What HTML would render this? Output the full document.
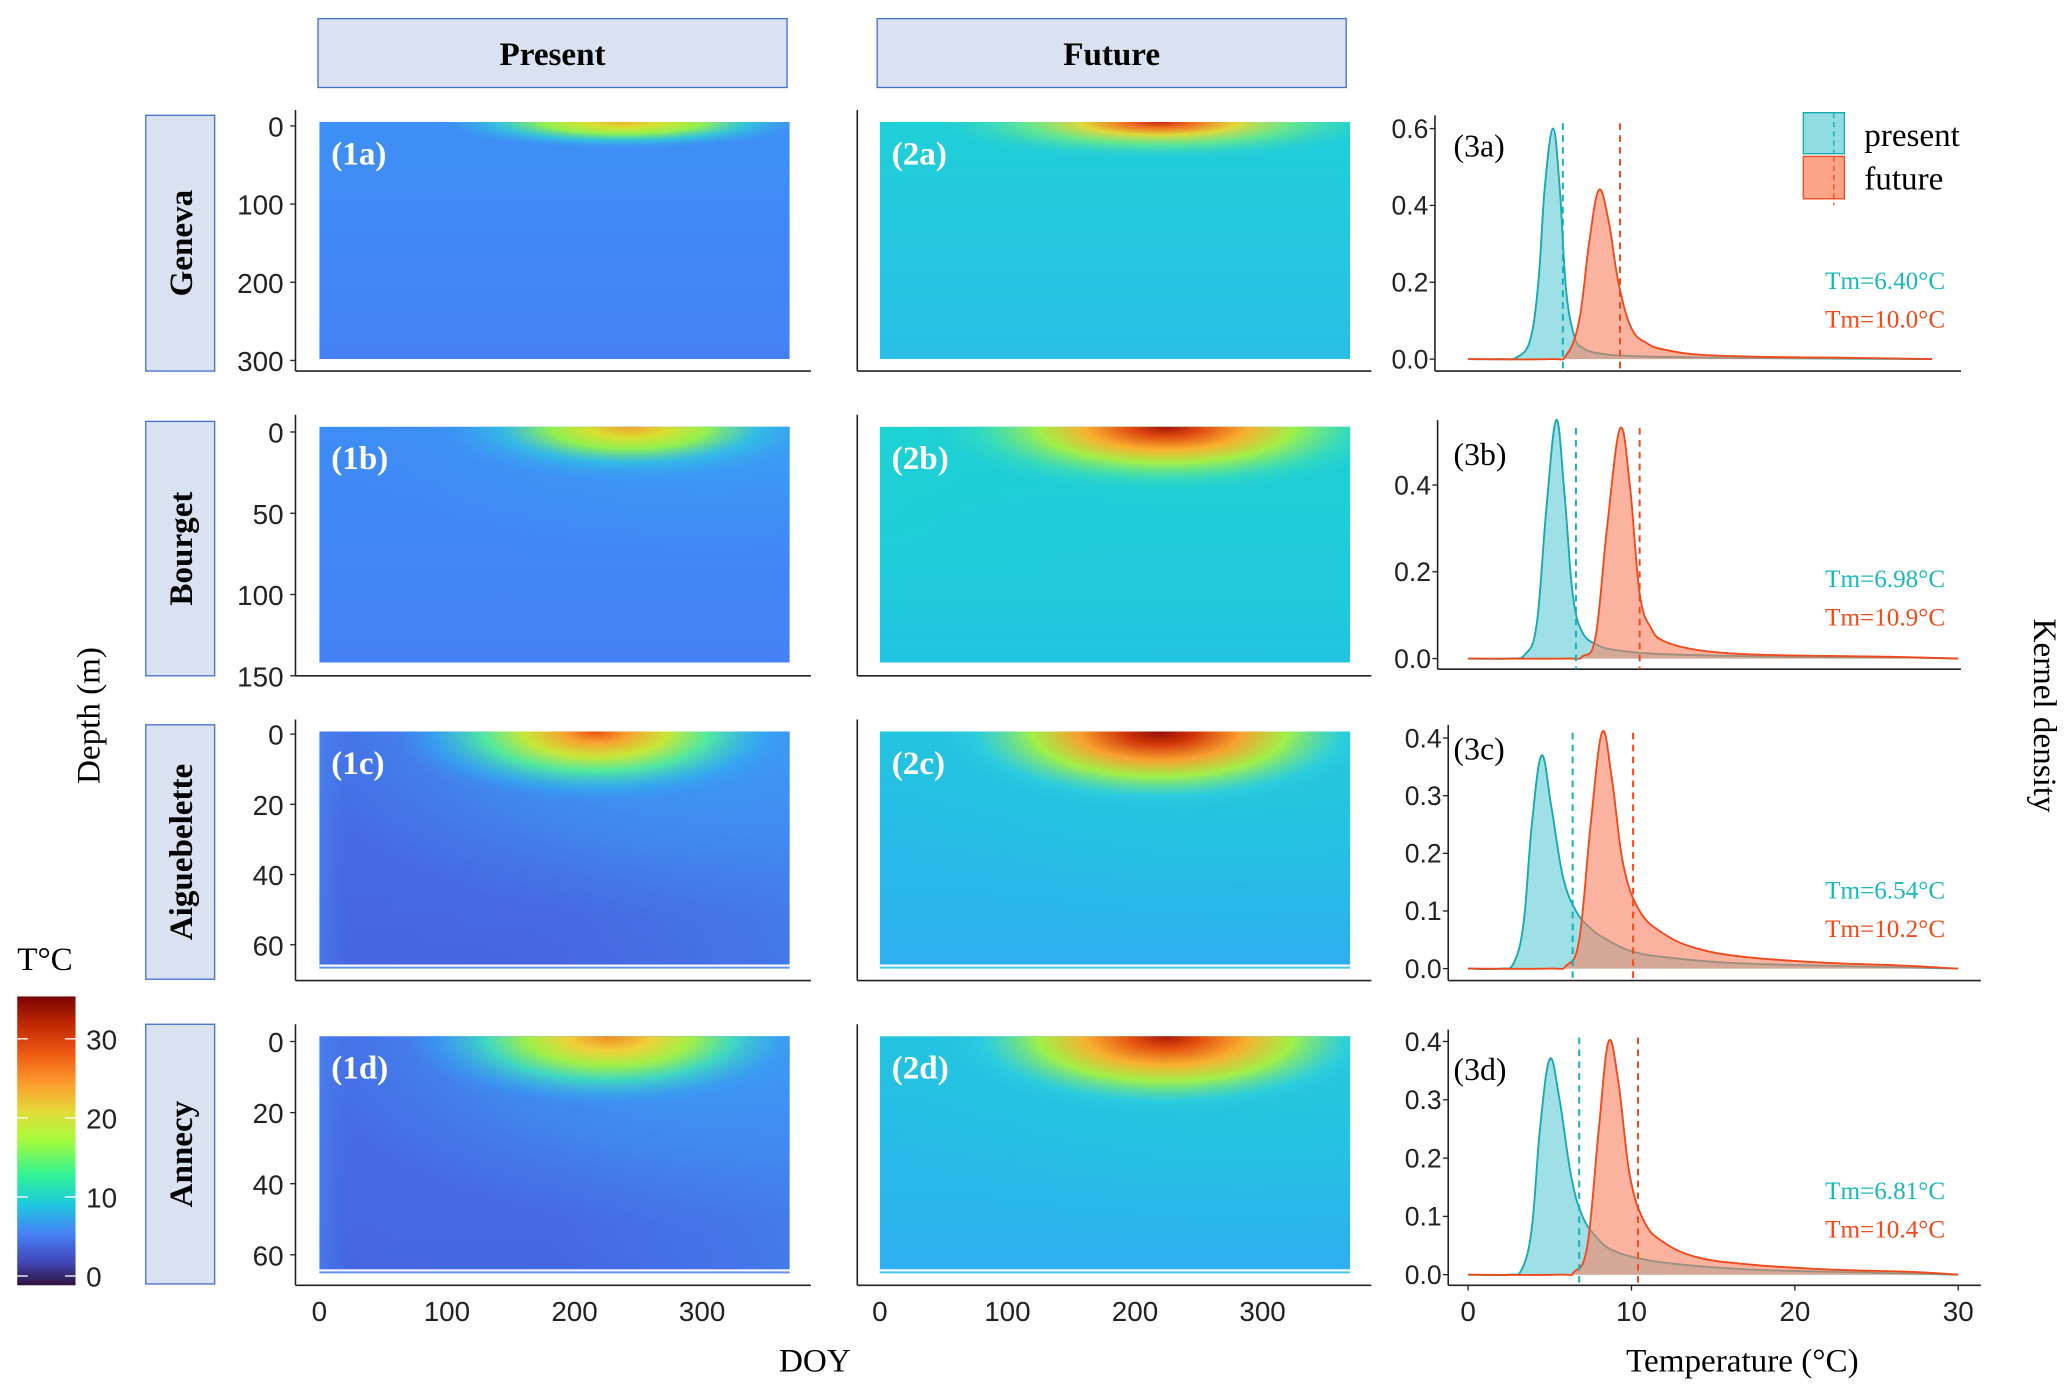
<!DOCTYPE html>
<html><head><meta charset="utf-8"><style>
html,body{margin:0;padding:0;background:#fff}
svg{display:block}
.serif{font-family:"Liberation Serif",serif}
.sans{font-family:"Liberation Sans",sans-serif}
</style></head><body>
<svg id="fig" width="2067" height="1390" viewBox="0 0 1560 1049" xmlns="http://www.w3.org/2000/svg">
<defs id="defs"></defs>
<rect width="1560" height="1049" fill="#fff"/>
<g id="root"></g>
</svg>
<script>
// ---- Density data (temperature °C, kernel density) ----
const presentA_x=[0,2,3,3.8,4.3,4.7,5.2,5.6,6.0,6.5,7,8,10,15,20,28.4];
const presentA_y=[0,0,0.005,0.05,0.2,0.45,0.60,0.45,0.18,0.06,0.03,0.015,0.008,0.004,0.002,0];
const futureA_x=[0,5,6,6.8,7.4,8.0,8.6,9.2,10,11,12,14,18,22,28.4];
const futureA_y=[0,0,0.01,0.1,0.3,0.44,0.36,0.2,0.08,0.04,0.025,0.012,0.006,0.004,0];
const presentB_x=[0,2.5,3.5,4.2,4.8,5.4,5.9,6.4,7,8,9,11,15,20,26,30];
const presentB_y=[0,0,0.01,0.08,0.35,0.55,0.38,0.15,0.06,0.03,0.02,0.012,0.007,0.004,0.003,0];
const futureB_x=[0,6,7,7.8,8.5,9.3,9.9,10.5,11.2,12,14,17,22,26,30];
const futureB_y=[0,0,0.005,0.05,0.3,0.53,0.4,0.15,0.07,0.04,0.02,0.01,0.006,0.004,0];
const presentC_x=[0,2,2.8,3.4,3.9,4.5,5.1,5.8,6.6,7.5,8.5,10,12,16,22,30];
const presentC_y=[0,0,0.01,0.08,0.25,0.37,0.28,0.16,0.1,0.07,0.05,0.03,0.02,0.01,0.005,0];
const futureC_x=[0,5,6,6.8,7.5,8.2,8.8,9.5,10.5,12,14,17,22,26,30];
const futureC_y=[0,0,0.005,0.05,0.25,0.41,0.33,0.18,0.1,0.06,0.035,0.02,0.01,0.006,0];
const presentD_x=[0,2.5,3.3,3.9,4.4,5.0,5.6,6.3,7,8,9,11,14,18,24,30];
const presentD_y=[0,0,0.01,0.08,0.25,0.37,0.3,0.17,0.1,0.06,0.04,0.025,0.015,0.008,0.004,0];
const futureD_x=[0,5.5,6.5,7.3,8.0,8.6,9.2,9.9,10.8,12,14,17,22,27,30];
const futureD_y=[0,0,0.005,0.05,0.25,0.40,0.33,0.17,0.09,0.055,0.03,0.018,0.009,0.005,0];
const tmPresent=[5.8,6.6,6.4,6.8];
const tmFuture=[9.3,10.5,10.1,10.4];
const tmPresentLabels=["Tm=6.40°C","Tm=6.98°C","Tm=6.54°C","Tm=6.81°C"];
const tmFutureLabels=["Tm=10.0°C","Tm=10.9°C","Tm=10.2°C","Tm=10.4°C"];
const densityTicks=[[0,0.2,0.4,0.6],[0,0.2,0.4],[0,0.1,0.2,0.3,0.4],[0,0.1,0.2,0.3,0.4]];
const densityTickLabels=[["0.0","0.2","0.4","0.6"],["0.0","0.2","0.4"],["0.0","0.1","0.2","0.3","0.4"],["0.0","0.1","0.2","0.3","0.4"]];
const tempTicks=[0,10,20,30];
const doyTicks=[0,100,200,300];
const depthTicks=[[0,100,200,300],[0,50,100,150],[0,20,40,60],[0,20,40,60]];
const lakes=["Geneva","Bourget","Aiguebelette","Annecy"];
const colorbarTicks=[0,10,20,30];

const NS="http://www.w3.org/2000/svg";
const root=document.getElementById('root');
const defs=document.getElementById('defs');
function el(tag,attrs,parent){const e=document.createElementNS(NS,tag);for(const k in attrs)e.setAttribute(k,attrs[k]);(parent||root).appendChild(e);return e;}
function txt(x,y,s,attrs,parent){const t=el('text',Object.assign({x:x,y:y},attrs),parent);t.textContent=s;return t;}

const rows=[{top:83,bot:280,hm0:92,hm1:271,d:[95,272]},
            {top:313,bot:510,hm0:322,hm1:500,d:[326,510]},
            {top:543,bot:740,hm0:552,hm1:728,d:[554,713]},
            {top:773,bot:970,hm0:782,hm1:958,d:[786,947]}];
const dens=[{axX:1083,bot:280,y0:271,yTop:97,vTop:0.6,end:1480},
            {axX:1085,bot:505,y0:497,yTop:366,vTop:0.4,end:1480},
            {axX:1093,bot:740,y0:731,yTop:557,vTop:0.4,end:1495},
            {axX:1093,bot:970,y0:962,yTop:786,vTop:0.4,end:1495}];
const cols=[{axX:223,hx0:241,hx1:596,end:612,x0:241,k:0.963},{axX:647,hx0:664,hx1:1019,end:1035,x0:664,k:0.963}];
const sx=v=>1108+v*12.33;

[["Present",240],["Future",662]].forEach(([s,x])=>{
  const g=el('g',{});
  
  
  el('rect',{x:x,y:14,width:354,height:52,fill:'#dae2f1',stroke:'#4472c4','stroke-width':1},g);
  txt(x+177,49,s,{'text-anchor':'middle','font-size':25,'font-weight':'bold',class:'serif'},g);
});

function lin(id,x1,y1,x2,y2,stops){const g=el('linearGradient',{id:id,x1:x1,y1:y1,x2:x2,y2:y2},defs);stops.forEach(s=>el('stop',{offset:s[0],'stop-color':s[1],'stop-opacity':s[2]===undefined?1:s[2]},g));}
function rad(id,stops){const g=el('radialGradient',{id:id,cx:0.5,cy:0.5,r:0.5},defs);stops.forEach(s=>el('stop',{offset:s[0],'stop-color':s[1],'stop-opacity':s[2]===undefined?1:s[2]},g));}
const bases=[
 [['0','#3d90f5'],['1','#4580f5']],[['0','#1fcfd8'],['1','#2abfe6']],
 [['0','#3e8cf5'],['1','#4580f5']],[['0','#1ad6d0'],['1','#22c4e0']],
 [['0','#4a78ec'],['1','#4768e0']],[['0','#22c4e0'],['1','#2eb0f0']],
 [['0','#4a78ec'],['1','#466ae2']],[['0','#22c4e0'],['1','#2eb0f0']]];
bases.forEach((b,i)=>lin('base'+i,0,0,0,1,b));
lin('hdark',0,0,1,0,[['0','#4a80ec',0.6],['0.06','#4462de',0.5],['0.5','#4462de',0.3],['1','#4090f5',0.4]]);
const blobs=[
 {c:[['0','#f0b030'],['0.2','#d8e030'],['0.45','#90f050'],['0.7','#30d8d0',0.7],['1','#38b0f0',0]],cx:470,rx:135,ry:20},
 {c:[['0','#c02808'],['0.15','#f07020'],['0.35','#e0d838'],['0.6','#70ec80',0.8],['1','#30d0d0',0]],cx:875,rx:170,ry:28},
 {c:[['0','#f0a030'],['0.2','#d8e030'],['0.4','#90f050'],['0.65','#30c8e0',0.7],['1','#3a98f5',0]],cx:475,rx:150,ry:42},
 {c:[['0','#a01404'],['0.15','#e04a10'],['0.35','#f8b030'],['0.55','#a0f048'],['0.8','#40e0b0',0.6],['1','#30d0d0',0]],cx:880,rx:175,ry:50},
 {c:[['0','#e85010'],['0.15','#f8a030'],['0.35','#c8e838'],['0.55','#50e8a0'],['0.8','#30b0f0',0.6],['1','#3a90f0',0]],cx:450,rx:155,ry:55},
 {c:[['0','#900e04'],['0.15','#d03408'],['0.35','#f8a030'],['0.55','#a0f048'],['0.8','#30d0e0',0.6],['1','#30b8e8',0]],cx:875,rx:175,ry:62},
 {c:[['0','#f08a28'],['0.2','#f0d038'],['0.4','#a0f048'],['0.6','#40d8c0'],['0.85','#38a0f0',0.6],['1','#3a90f0',0]],cx:460,rx:155,ry:55},
 {c:[['0','#a81804'],['0.15','#e45010'],['0.35','#f8b030'],['0.55','#a0f048'],['0.8','#30d0e0',0.6],['1','#30b8e8',0]],cx:880,rx:175,ry:62}];
blobs.forEach((b,i)=>rad('blob'+i,b.c));
rad('halo1',[['0','#38a8f5',0.9],['0.6','#3c98f5',0.5],['1','#4090f5',0]]);
rad('halo2',[['0','#20d0d0',0.8],['0.6','#22c8dc',0.4],['1','#28c0e0',0]]);

rows.forEach((r,ri)=>{
  cols.forEach((c,ci)=>{
    const idx=ri*2+ci;
    const g=el('g',{});
    
    
    const cp=el('clipPath',{id:'cp'+idx},defs);
    el('rect',{x:c.hx0,y:r.hm0,width:c.hx1-c.hx0,height:r.hm1-r.hm0},cp);
    const gg=el('g',{'clip-path':'url(#cp'+idx+')'},g);
    el('rect',{x:c.hx0,y:r.hm0,width:c.hx1-c.hx0,height:r.hm1-r.hm0,fill:'url(#base'+idx+')'},gg);
    if(ri>=2&&ci==0) el('rect',{x:c.hx0,y:r.hm0,width:c.hx1-c.hx0,height:r.hm1-r.hm0,fill:'url(#hdark)'},gg);
    const b=blobs[idx];
    if(ri>=1) el('ellipse',{cx:b.cx+60,cy:r.hm0,rx:b.rx*1.9,ry:b.ry*2.6,fill:ci?'url(#halo2)':'url(#halo1)'},gg);
    el('ellipse',{cx:b.cx,cy:r.hm0,rx:b.rx,ry:b.ry,fill:'url(#blob'+idx+')'},gg);
    if(ri>=2){el('rect',{x:c.hx0,y:r.hm1+1.5,width:c.hx1-c.hx0,height:1.5,fill:ci?'#40c8e8':'#6090f0'},g);}
    txt(c.hx0+9,r.hm0+32,'('+(ci+1)+String.fromCharCode(97+ri)+')',{'font-size':25,'font-weight':'bold',fill:'#fff',class:'serif'},g);
    const ax=el('g',{stroke:'#222','stroke-width':1.2,fill:'none'},g);
    el('line',{x1:c.axX,y1:r.top,x2:c.axX,y2:r.bot},ax);
    el('line',{x1:c.axX,y1:r.bot,x2:c.end,y2:r.bot},ax);
    if(ci==0){
      depthTicks[ri].forEach(v=>{
        const y=r.d[0]+(r.d[1]-r.d[0])*v/depthTicks[ri][3];
        el('line',{x1:c.axX-4,y1:y,x2:c.axX,y2:y,stroke:'#222'},g);
        const t=txt(c.axX-9,y+8,String(v),{'text-anchor':'end','font-size':21,class:'sans',fill:'#222'},g);
        
        
      });
    }
    if(ri==3){
      doyTicks.forEach(v=>{
        const x=c.x0+v*c.k;
        const t=txt(x,997,String(v),{'text-anchor':'middle','font-size':21,class:'sans',fill:'#222'},g);
        
        
      });
    }
  });
  const rg=el('g',{});
  
  
  const h=[193,192,192,196][ri], y=[87,318,547,773][ri];
  el('rect',{x:110,y:y,width:52,height:h,fill:'#dae2f1',stroke:'#4472c4','stroke-width':1},rg);
  txt(0,0,lakes[ri],{'text-anchor':'middle','font-size':25,'font-weight':'bold',class:'serif',transform:'translate(145,'+(y+h/2)+') rotate(-90)'},rg);
});

const pres=[[presentA_x,presentA_y],[presentB_x,presentB_y],[presentC_x,presentC_y],[presentD_x,presentD_y]];
const fut=[[futureA_x,futureA_y],[futureB_x,futureB_y],[futureC_x,futureC_y],[futureD_x,futureD_y]];
function pathFrom(xs,ys,sy){
  const p=xs.map((x,i)=>[sx(x),sy(ys[i])]);
  let d='M'+p[0][0]+','+p[0][1];
  for(let i=0;i<p.length-1;i++){
    const p0=p[Math.max(0,i-1)],p1=p[i],p2=p[i+1],p3=p[Math.min(p.length-1,i+2)];
    const t=0.18;
    d+=' C'+(p1[0]+(p2[0]-p0[0])*t)+','+(p1[1]+(p2[1]-p0[1])*t)+' '+(p2[0]-(p3[0]-p1[0])*t)+','+(p2[1]-(p3[1]-p1[1])*t)+' '+p2[0]+','+p2[1];
  }
  return d;
}
dens.forEach((D,ri)=>{
  const g=el('g',{});
  
  
  const sy=v=>D.y0-(D.y0-D.yTop)*v/D.vTop;
  const ax=el('g',{stroke:'#222','stroke-width':1.2},g);
  el('line',{x1:D.axX,y1:rows[ri].top+4,x2:D.axX,y2:D.bot},ax);
  el('line',{x1:D.axX,y1:D.bot,x2:D.end,y2:D.bot},ax);
  densityTicks[ri].forEach((v,i)=>{
    el('line',{x1:D.axX-4,y1:sy(v),x2:D.axX,y2:sy(v),stroke:'#222'},g);
    const t=txt(D.axX-5,sy(v)+7,densityTickLabels[ri][i],{'text-anchor':'end','font-size':20,class:'sans',fill:'#222'},g);
    
    
  });
  [[pres[ri],'#5dccd4','#18a8b0','present'],[fut[ri],'#f98060','#f04a1c','future']].forEach(([s,fill,stroke,nm])=>{
    const d=pathFrom(s[0],s[1],sy);
    const ar=el('path',{d:d+' L'+sx(s[0][s[0].length-1])+','+sy(0)+' L'+sx(s[0][0])+','+sy(0)+'Z',fill:fill,'fill-opacity':0.6,stroke:'none'},g);
    
    
    const ln=el('path',{d:d,fill:'none',stroke:stroke,'stroke-width':1.4},g);
    
    
  });
  const ltop=rows[ri].top+10;
  const l1=el('line',{x1:sx(tmPresent[ri]),y1:ltop,x2:sx(tmPresent[ri]),y2:D.bot,stroke:'#18b0b8','stroke-width':1.5,'stroke-dasharray':'5,4'},g);
  
  
  const l2=el('line',{x1:sx(tmFuture[ri]),y1:ltop,x2:sx(tmFuture[ri]),y2:D.bot,stroke:'#f04a1c','stroke-width':1.5,'stroke-dasharray':'5,4'},g);
  
  
  const ty=[218,443,678,905][ri];
  const t1=txt(1468,ty,tmPresentLabels[ri],{'text-anchor':'end','font-size':19,class:'serif',fill:'#1ab8bc'},g);
  
  
  const t2=txt(1468,ty+29,tmFutureLabels[ri],{'text-anchor':'end','font-size':19,class:'serif',fill:'#f04a1c'},g);
  
  
  txt(1097,[118,351,573,815][ri],'(3'+String.fromCharCode(97+ri)+')',{'font-size':24,class:'serif'},g);
  if(ri==3){
    tempTicks.forEach(v=>{
      el('line',{x1:sx(v),y1:D.bot,x2:sx(v),y2:D.bot+4,stroke:'#222'},g);
      const t=txt(sx(v),997,String(v),{'text-anchor':'middle','font-size':21,class:'sans',fill:'#222'},g);
      
      
    });
  }
});

const lg=el('g',{});


el('rect',{x:1361,y:85,width:31,height:31,fill:'#8fdde0',stroke:'#18a8b0'},lg);
el('line',{x1:1384,y1:85,x2:1384,y2:116,stroke:'#18a8b0','stroke-dasharray':'4,3'},lg);
el('rect',{x:1361,y:118,width:31,height:32,fill:'#fba488',stroke:'#f04a1c'},lg);
el('line',{x1:1384,y1:118,x2:1384,y2:155,stroke:'#f04a1c','stroke-dasharray':'4,3'},lg);
txt(1407,110,'present',{'font-size':25,class:'serif'},lg);
txt(1407,143,'future',{'font-size':25,class:'serif'},lg);

lin('turbo',0,1,0,0,[['0','#30123b'],['0.08','#4146b8'],['0.18','#4682f8'],['0.28','#1fc8de'],['0.38','#2ff397'],['0.5','#a4fc3c'],['0.6','#e2dc38'],['0.7','#fe9b2d'],['0.8','#ee5b13'],['0.9','#c22903'],['1','#7a0403']]);
const cb=el('g',{});


el('rect',{x:13,y:752,width:44,height:218,fill:'url(#turbo)'},cb);
txt(13,732,'T°C',{'font-size':25,class:'serif'},cb);
const cbY=v=>963-v*(963-784)/30;
colorbarTicks.forEach(v=>{
  el('line',{x1:13,y1:cbY(v),x2:21,y2:cbY(v),stroke:'#fff','stroke-width':1},cb);
  el('line',{x1:49,y1:cbY(v),x2:57,y2:cbY(v),stroke:'#fff','stroke-width':1},cb);
  txt(65,cbY(v)+8,String(v),{'font-size':21,class:'sans',fill:'#222'},cb);
});

const a1=txt(615,1035,'DOY',{'text-anchor':'middle','font-size':25,class:'serif'});


const a2=txt(1315,1035,'Temperature (°C)',{'text-anchor':'middle','font-size':25,class:'serif'});


const a3=txt(0,0,'Depth (m)',{'text-anchor':'middle','font-size':25,class:'serif',transform:'translate(75,540) rotate(-90)'});


const a4=txt(0,0,'Kernel density',{'text-anchor':'middle','font-size':25,class:'serif',transform:'translate(1535,540) rotate(90)'});


</script>
</body></html>
